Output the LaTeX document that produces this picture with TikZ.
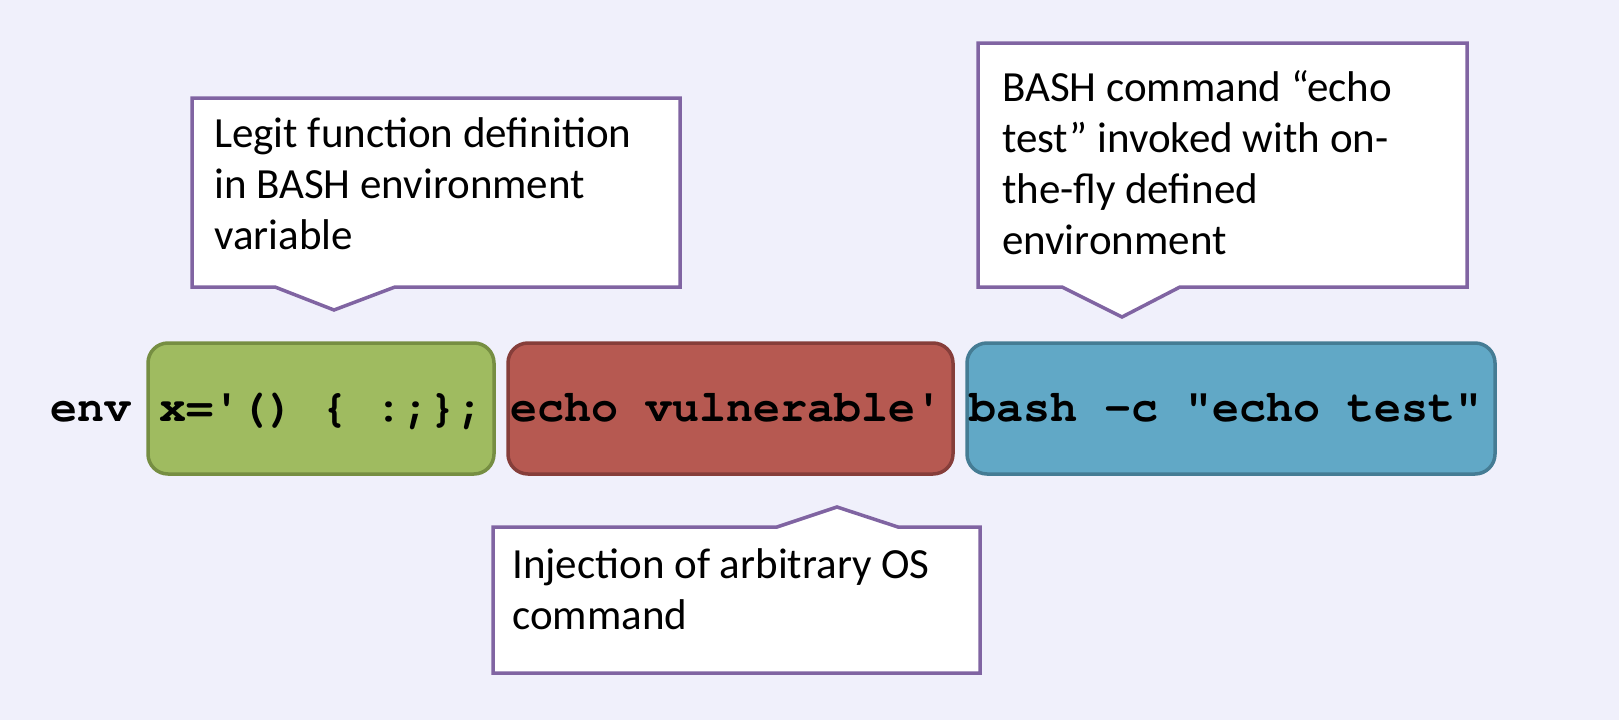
\documentclass[tikz,border=0pt]{standalone}
\usepackage{fontspec}
\setmainfont{Carlito}
\setmonofont{TeX Gyre Cursor}
\definecolor{bg}{RGB}{240,240,251}
\definecolor{greenfill}{RGB}{159,187,96}
\definecolor{greendraw}{RGB}{118,142,66}
\definecolor{redfill}{RGB}{182,89,81}
\definecolor{reddraw}{RGB}{134,62,58}
\definecolor{bluefill}{RGB}{97,168,198}
\definecolor{bluedraw}{RGB}{69,124,148}
\definecolor{callout}{RGB}{128,100,162}
\tikzset{
  codebox/.style={rectangle, rounded corners=20pt, line width=3.5pt, inner sep=0pt},
  codetext/.style={anchor=base west, inner sep=0pt, font=\fontsize{45}{54}\selectfont\ttfamily\bfseries},
  calloutshape/.style={draw=callout, fill=white, line width=3.5pt, line join=miter},
  callouttext/.style={anchor=north west, inner sep=0pt, align=left, font=\fontsize{43}{51}\selectfont}
}
\begin{document}
\begin{tikzpicture}[x=1pt,y=-1pt]
\useasboundingbox (0,0) rectangle (1619,720);
\fill[bg] (0,0) rectangle (1619,720);

% code boxes
\node[codebox, draw=greendraw, fill=greenfill, minimum width=346pt, minimum height=131pt] (green) at (321,408.5) {};
\node[codebox, draw=reddraw, fill=redfill, minimum width=445pt, minimum height=131pt] (red) at (730.5,408.5) {};
\node[codebox, draw=bluedraw, fill=bluefill, minimum width=528pt, minimum height=131pt] (blue) at (1231,408.5) {};

\node[codetext] (env) at (50,421) {env};
\node[codetext] (greentxt) at (159,421) {x='() \{ :;\};};
\node[codetext] (redtxt) at (510,421) {echo vulnerable'};
\node[codetext] (bluetxt) at (969,421) {bash -c "echo test"};

% callouts
\draw[calloutshape] (192,98) -- (680,98) -- (680,287) -- (395,287) -- (334,310) -- (275,287) -- (192,287) -- cycle;
\node[callouttext] (c1) at (214,111.3) {\strut Legit function definition\\in BASH environment\\variable};

\draw[calloutshape] (978,43) -- (1467,43) -- (1467,287) -- (1180,287) -- (1122,317) -- (1062,287) -- (978,287) -- cycle;
\node[callouttext] (c2) at (1002,65.3) {\strut BASH command “echo\\test” invoked with on-\\the-fly defined\\environment};

\draw[calloutshape] (493,527) -- (777,527) -- (837,507) -- (898,527) -- (980,527) -- (980,673) -- (493,673) -- cycle;
\node[callouttext] (c3) at (512,542.3) {\strut Injection of arbitrary OS\\command};
\end{tikzpicture}
\end{document}
